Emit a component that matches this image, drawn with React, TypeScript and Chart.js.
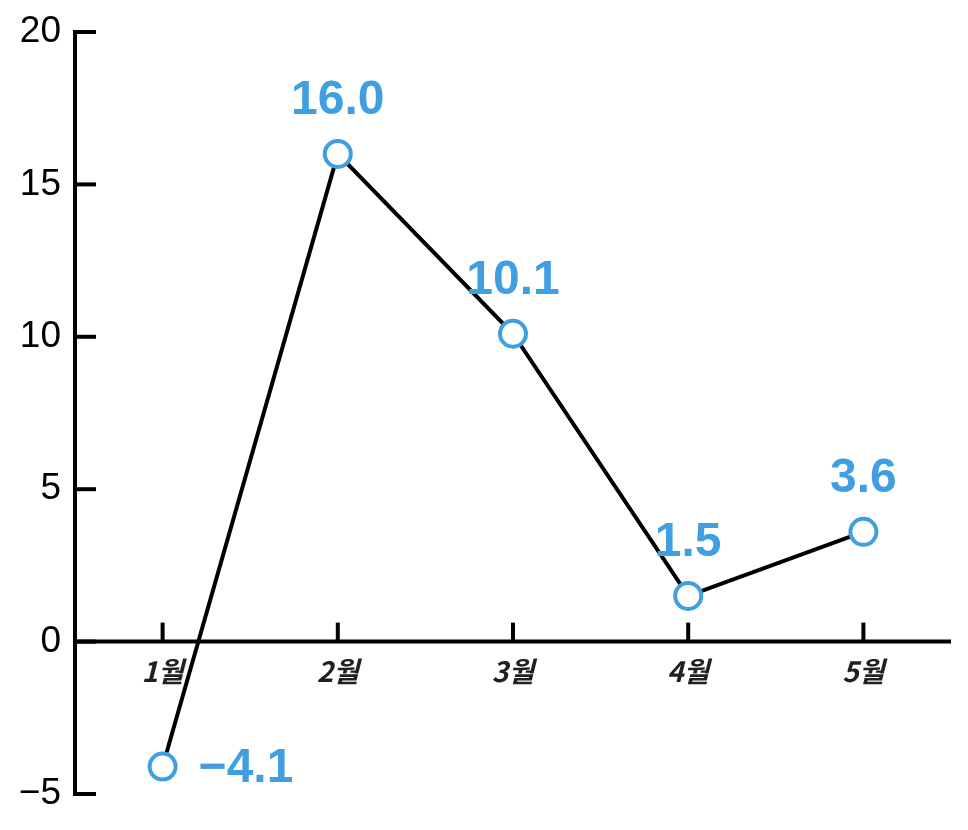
import React, { useEffect, useRef } from "react";
import { Chart, registerables } from "chart.js";

Chart.register(...registerables);

const categories = ["1월", "2월", "3월", "4월", "5월"];
const values = [-4.1, 16.0, 10.1, 1.5, 3.6];
const valueLabels = ["\u22124.1", "16.0", "10.1", "1.5", "3.6"];
const yTicks = [20, 15, 10, 5, 0, -5];

const BLUE = "#3f9fe0";

const axesPlugin = {
  id: "customAxes",
  beforeDatasetsDraw(chart: any) {
    const { ctx, scales } = chart;
    const x = scales.x;
    const y = scales.y;
    const left = chart.chartArea.left;
    const right = chart.chartArea.right;
    const y0 = y.getPixelForValue(0);
    ctx.save();
    ctx.strokeStyle = "#000";
    ctx.lineWidth = 4;
    ctx.lineCap = "butt";
    ctx.beginPath();
    ctx.moveTo(left, y.getPixelForValue(yTicks[0]) - 2);
    ctx.lineTo(left, y.getPixelForValue(yTicks[yTicks.length - 1]) + 2);
    ctx.stroke();
    yTicks.forEach((v) => {
      const py = y.getPixelForValue(v);
      ctx.beginPath();
      ctx.moveTo(left, py);
      ctx.lineTo(left + 21, py);
      ctx.stroke();
    });
    ctx.beginPath();
    ctx.moveTo(left, y0);
    ctx.lineTo(right, y0);
    ctx.stroke();
    categories.forEach((_, i) => {
      const px = x.getPixelForValue(i);
      ctx.beginPath();
      ctx.moveTo(px, y0);
      ctx.lineTo(px, y0 - 19);
      ctx.stroke();
    });
    ctx.restore();
  },
};

const labelPlugin = {
  id: "valueLabels",
  afterDatasetsDraw(chart: any) {
    const { ctx } = chart;
    const meta = chart.getDatasetMeta(0);
    ctx.save();
    ctx.fillStyle = BLUE;
    ctx.font = 'bold 48px "Liberation Sans", Arial, sans-serif';
    meta.data.forEach((pt: any, i: number) => {
      const v = values[i];
      if (v < 0) {
        ctx.textAlign = "left";
        ctx.textBaseline = "middle";
        ctx.fillText(valueLabels[i], pt.x + 36, pt.y + 2);
      } else {
        ctx.textAlign = "center";
        ctx.textBaseline = "alphabetic";
        ctx.fillText(valueLabels[i], pt.x, pt.y - 40);
      }
    });
    ctx.restore();
  },
};

export default function App() {
  const ref = useRef<HTMLCanvasElement | null>(null);
  useEffect(() => {
    if (!ref.current) return;
    const chart = new Chart(ref.current, {
      type: "line",
      data: {
        labels: categories,
        datasets: [
          {
            data: values,
            borderColor: "#000",
            borderWidth: 4,
            pointRadius: 13,
            pointBorderWidth: 4,
            pointBorderColor: BLUE,
            pointBackgroundColor: "#fff",
            tension: 0,
          },
        ],
      },
      options: {
        animation: false,
        responsive: false,
        maintainAspectRatio: false,
        events: [],
        layout: { padding: { left: 0, right: 16, top: 32, bottom: 36 } },
        plugins: {
          legend: { display: false },
          tooltip: { enabled: false },
        },
        scales: {
          x: {
            type: "category",
            offset: true,
            position: { y: 0 } as any,
            grid: { display: false, drawTicks: false },
            border: { display: false },
            ticks: {
              padding: 13,
              color: "#231f20",
              font: { family: '"Noto Sans CJK KR", sans-serif', size: 28, weight: "bold", style: "italic" },
            },
          },
          y: {
            type: "linear",
            min: -5,
            max: 20,
            afterFit: (scale: any) => {
              scale.width = 75;
              scale.paddingTop = 0;
              scale.paddingBottom = 0;
            },
            afterBuildTicks: (scale: any) => {
              scale.ticks = yTicks.map((v) => ({ value: v }));
            },
            grid: { display: false, drawTicks: false },
            border: { display: false },
            ticks: {
              padding: 14,
              color: "#000",
              font: { family: '"Liberation Sans", Arial, sans-serif', size: 37 },
              callback: (v: any) => (Number(v) < 0 ? "\u2212" + Math.abs(Number(v)) : String(v)),
            },
          },
        },
      },
      plugins: [axesPlugin, labelPlugin],
    });
    return () => chart.destroy();
  }, []);
  return (
    <div style={{ position: "fixed", left: 0, top: 0, width: 968, height: 830, background: "#fff" }}>
      <canvas ref={ref} width={968} height={830} style={{ width: 968, height: 830 }} />
    </div>
  );
}
